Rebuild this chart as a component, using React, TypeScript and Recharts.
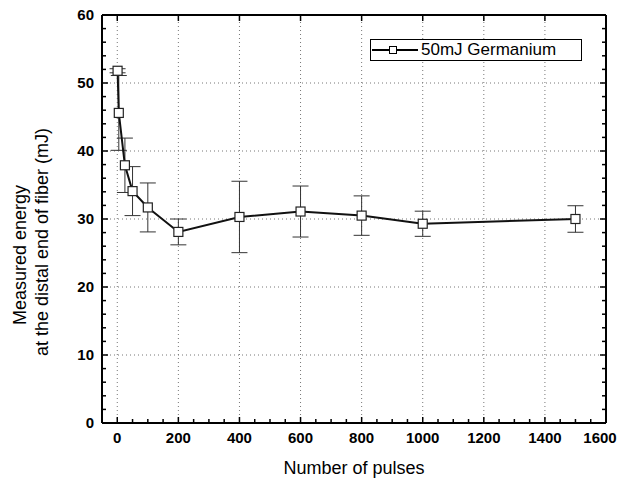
import React from 'react';
import { ComposedChart, Line, ErrorBar, XAxis, YAxis, ReferenceLine, Legend } from 'recharts';

// values
const pulses = [1, 5, 25, 50, 100, 200, 400, 600, 800, 1000, 1500];
const energy = [51.8, 45.6, 37.9, 34.1, 31.7, 28.1, 30.3, 31.1, 30.5, 29.3, 30.0];
const energyErr = [0.3, 5.5, 4.0, 3.6, 3.6, 1.9, 5.25, 3.75, 2.9, 1.85, 1.95];

const xMajorTicks = [0, 200, 400, 600, 800, 1000, 1200, 1400, 1600];
const xMinorTicks = Array.from({ length: 33 }, (_, i) => i * 50);
const yMajorTicks = [0, 10, 20, 30, 40, 50, 60];
const yMinorTicks = Array.from({ length: 31 }, (_, i) => i * 2);

const FONT = '"Liberation Sans", Arial, sans-serif';

const chartData = pulses.map((p, i) => ({ pulses: p, energy: energy[i], err: energyErr[i] }));

const BottomTick = (props: any) => {
  const { x, y, payload } = props;
  const major = payload.value % 200 === 0;
  // last label is pulled in a little so it stays inside the picture
  const shift = payload.value === 1600 ? -6 : 0;
  return (
    <g>
      <line x1={x} x2={x} y1={y} y2={y - (major ? 6 : 4)} stroke="#000" strokeWidth={1.5} />
      {major && (
        <text x={x + shift} y={y + 20} textAnchor="middle" fontSize={15} fontWeight="bold" fontFamily={FONT} fill="#000">
          {payload.value}
        </text>
      )}
    </g>
  );
};

const TopTick = (props: any) => {
  const { x, y } = props;
  return <line x1={x} x2={x} y1={y} y2={y + 6} stroke="#000" strokeWidth={1.5} />;
};

const LeftTick = (props: any) => {
  const { x, y, payload } = props;
  const major = payload.value % 10 === 0;
  return (
    <g>
      <line x1={x} x2={x + (major ? 6 : 4)} y1={y} y2={y} stroke="#000" strokeWidth={1.5} />
      {major && (
        <text x={x - 8} y={y} dy="0.36em" textAnchor="end" fontSize={15} fontWeight="bold" fontFamily={FONT} fill="#000">
          {payload.value}
        </text>
      )}
    </g>
  );
};

const RightTick = (props: any) => {
  const { x, y, payload } = props;
  const major = payload.value % 10 === 0;
  return <line x1={x} x2={x - (major ? 6 : 4)} y1={y} y2={y} stroke="#000" strokeWidth={1.5} />;
};

const YTitle = (props: any) => {
  const { viewBox } = props;
  const cy = viewBox.y + viewBox.height / 2;
  return (
    <g fontFamily={FONT} fontSize={18} fill="#000">
      <text transform={`translate(${viewBox.x + 20},${cy + 36}) rotate(-90)`} textAnchor="middle" dy="0.35em">
        Measured energy
      </text>
      <text transform={`translate(${viewBox.x + 42},${cy + 23}) rotate(-90)`} textAnchor="middle" dy="0.35em">
        at the distal end of fiber (mJ)
      </text>
    </g>
  );
};

const SquareDot = (props: any) => {
  const { cx, cy, index } = props;
  if (cx == null || cy == null) return null;
  return <rect key={index} x={cx - 4.5} y={cy - 4.5} width={9} height={9} fill="#fff" stroke="#222" strokeWidth={1.2} />;
};

const LegendBox = () => (
  <div
    style={{
      border: '1px solid #000',
      background: '#fff',
      width: 210,
      height: 20,
      display: 'flex',
      alignItems: 'center',
      fontFamily: FONT,
      fontSize: 17,
      color: '#000',
      lineHeight: '20px'
    }}
  >
    <svg width={50} height={20} style={{ display: 'block' }}>
      <line x1={1} x2={47} y1={10} y2={10} stroke="#000" strokeWidth={2} />
      <rect x={18.5} y={6.5} width={7} height={7} fill="#fff" stroke="#000" strokeWidth={1} />
    </svg>
    <span>50mJ Germanium</span>
  </div>
);

export default function App() {
  return (
    <div style={{ position: 'absolute', left: 0, top: 0, width: 619, height: 482, background: '#fff' }}>
      <ComposedChart width={619} height={482} data={chartData} margin={{ top: 14, right: 12, bottom: 0, left: 0 }}>
        <XAxis
          xAxisId="bottom"
          dataKey="pulses"
          type="number"
          orientation="bottom"
          domain={[-50, 1600]}
          allowDataOverflow
          ticks={xMinorTicks}
          interval={0}
          tick={<BottomTick />}
          tickLine={false}
          tickSize={0}
          tickMargin={0}
          height={59}
          axisLine={{ stroke: '#000', strokeWidth: 2 }}
          label={{ value: 'Number of pulses', position: 'insideBottom', offset: 8, fontSize: 18, fontFamily: FONT, fill: '#000' }}
        />
        <XAxis
          xAxisId="top"
          dataKey="pulses"
          type="number"
          orientation="top"
          domain={[-50, 1600]}
          allowDataOverflow
          ticks={xMajorTicks}
          interval={0}
          tick={<TopTick />}
          tickLine={false}
          tickSize={0}
          tickMargin={0}
          height={1}
          axisLine={{ stroke: '#000', strokeWidth: 2 }}
        />
        <YAxis
          yAxisId="left"
          type="number"
          domain={[0, 60]}
          allowDataOverflow
          ticks={yMinorTicks}
          interval={0}
          tick={<LeftTick />}
          tickLine={false}
          tickSize={0}
          tickMargin={0}
          width={102}
          axisLine={{ stroke: '#000', strokeWidth: 2 }}
          label={{ content: <YTitle /> }}
        />
        <YAxis
          yAxisId="right"
          orientation="right"
          type="number"
          domain={[0, 60]}
          allowDataOverflow
          ticks={yMinorTicks}
          interval={0}
          tick={<RightTick />}
          tickLine={false}
          tickSize={0}
          tickMargin={0}
          width={1}
          axisLine={{ stroke: '#000', strokeWidth: 2 }}
        />
        {xMajorTicks.slice(0, -1).map((t) => (
          <ReferenceLine key={'vx' + t} x={t} xAxisId="bottom" yAxisId="left" stroke="#777" strokeDasharray="1 3" />
        ))}
        {yMajorTicks.slice(1, -1).map((t) => (
          <ReferenceLine key={'hy' + t} y={t} xAxisId="bottom" yAxisId="left" stroke="#777" strokeDasharray="1 3" />
        ))}
        <Legend
          layout="vertical"
          align="center"
          verticalAlign="middle"
          content={<LegendBox />}
          wrapperStyle={{ position: 'absolute', left: 370, top: 39, width: 'auto', height: 'auto', margin: 0, padding: 0 }}
        />
        <Line
          xAxisId="bottom"
          yAxisId="left"
          dataKey="energy"
          name="50mJ Germanium"
          type="linear"
          stroke="#111"
          strokeWidth={2}
          dot={<SquareDot />}
          activeDot={false}
          isAnimationActive={false}
        >
          <ErrorBar dataKey="err" direction="y" width={8} stroke="#333" strokeWidth={1} />
        </Line>
      </ComposedChart>
    </div>
  );
}
